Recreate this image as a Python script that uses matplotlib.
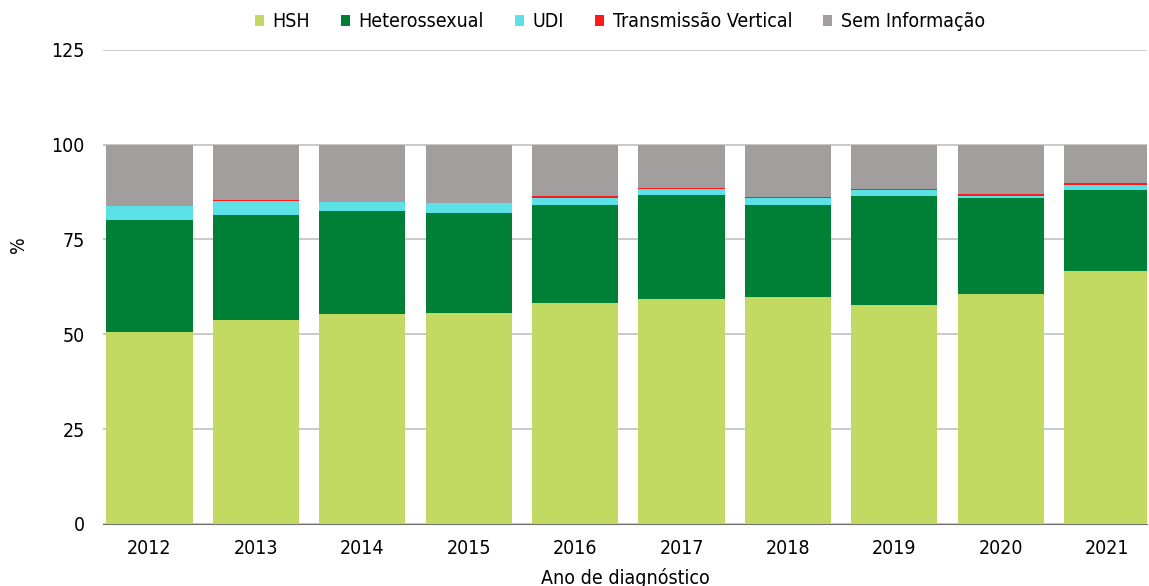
import matplotlib.pyplot as plt
import numpy as np

# Data (% by year of diagnosis)
anos = ['2012', '2013', '2014', '2015', '2016', '2017', '2018', '2019', '2020', '2021']
hsh = [50.7, 53.8, 55.4, 55.7, 58.3, 59.4, 59.9, 57.8, 60.7, 66.8]
hetero = [29.5, 27.7, 27.2, 26.4, 25.9, 27.4, 24.3, 28.7, 25.1, 21.3]
udi = [3.7, 3.7, 2.4, 2.6, 1.8, 1.5, 1.6, 1.6, 0.7, 1.3]
trans_vertical = [0.0, 0.3, 0.0, 0.0, 0.5, 0.3, 0.3, 0.2, 0.6, 0.6]
sem_info = [16.1, 14.5, 15.0, 15.3, 13.5, 11.4, 13.9, 11.7, 12.9, 10.0]

series = [
    ('HSH', hsh, '#c2d962'),
    ('Heterossexual', hetero, '#007f37'),
    ('UDI', udi, '#5ce1e6'),
    ('Transmissão Vertical', trans_vertical, '#ff1a1a'),
    ('Sem Informação', sem_info, '#a39e9e'),
]

plt.rcParams['font.family'] = ['DejaVu Sans']
plt.rcParams['font.stretch'] = 'condensed'

fig = plt.figure(figsize=(11.49, 5.86), dpi=100)
ax = fig.add_axes([0.0896, 0.106, 0.9087, 0.809])

x = np.arange(len(anos))
bottom = np.zeros(len(anos))
for name, vals, color in series:
    ax.bar(x, vals, width=0.81, bottom=bottom, color=color, label=name, zorder=3)
    bottom += np.array(vals)

ax.set_ylim(0, 125)
ax.set_yticks([0, 25, 50, 75, 100, 125])
ax.set_xlim(-0.437, 9.375)
ax.set_xticks(x)
ax.set_xticklabels(anos)
ax.yaxis.grid(True, color='#c0c0c0', linewidth=1.2, zorder=0)
ax.set_axisbelow(True)
for s in ['top', 'right', 'left']:
    ax.spines[s].set_visible(False)
ax.spines['bottom'].set_color('#707070')
ax.tick_params(axis='both', length=0, labelsize=14, colors='black')
ax.tick_params(axis='x', pad=11)
ax.tick_params(axis='y', pad=13)

ax.set_ylabel('%', fontsize=14)
ax.yaxis.set_label_coords(-0.072, 0.589)
ax.set_xlabel('Ano de diagnóstico', fontsize=14, labelpad=7)

ax.legend(loc='center', bbox_to_anchor=(0.495, 1.059), ncol=5, frameon=False,
          fontsize=14, handlelength=0.45, handleheight=0.45, handletextpad=0.45,
          columnspacing=1.6)

fig.savefig('out.png', dpi=100)
